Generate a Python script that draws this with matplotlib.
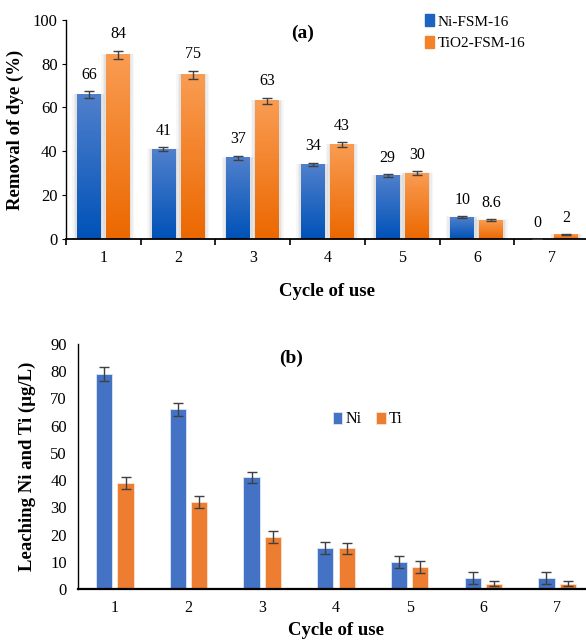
import numpy as np
import matplotlib.pyplot as plt
from matplotlib.colors import LinearSegmentedColormap
from matplotlib.patches import Rectangle

plt.rcParams['font.family'] = ['Liberation Serif', 'DejaVu Serif']

# ---- data ----
cycles = [1, 2, 3, 4, 5, 6, 7]
cycle_labels = ['1', '2', '3', '4', '5', '6', '7']

# (a) removal of dye
ni_fsm = [66, 41, 37, 34, 29, 10, 0]
ni_fsm_err = [1.5, 0.9, 1.0, 0.8, 0.7, 0.4, 0.0]
ti_fsm = [84, 75, 63, 43, 30, 8.6, 2]
ti_fsm_err = [2.0, 1.8, 1.5, 1.1, 0.9, 0.4, 0.3]
dye_labels_ni = ['66', '41', '37', '34', '29', '10', '0']
dye_labels_ti = ['84', '75', '63', '43', '30', '8.6', '2']

# (b) leaching
ni_leach = [79, 66, 41, 15, 10, 4, 4]
ni_leach_err = [2.5, 2.4, 2.0, 2.3, 2.3, 2.1, 2.1]
ti_leach = [39, 32, 19, 15, 8, 2, 2]
ti_leach_err = [2.2, 2.3, 2.2, 2.0, 2.1, 1.0, 1.0]

blue_grad = LinearSegmentedColormap.from_list('bg', ['#0052b8', '#5080cc'])
orange_grad = LinearSegmentedColormap.from_list('og', ['#ec6800', '#f99c52'])
grad = np.linspace(0, 1, 100).reshape(-1, 1)

fig = plt.figure(figsize=(5.86, 6.4), dpi=100)

# ================= panel (a) =================
ax1 = fig.add_axes([0.1126, 0.6266, 0.8924, 0.3424])
x = np.array(cycles, dtype=float)
w = 0.32
off = 0.195


def grad_bar(ax, xc, h, cmap):
    if h <= 0:
        return
    # soft shadow
    for k, a in [(0.06, 0.06), (0.04, 0.08), (0.02, 0.10)]:
        ax.add_patch(Rectangle((xc - w / 2 - k, 0), w + 2 * k, h + k * 6,
                               color='gray', alpha=a, lw=0, zorder=1))
    ax.imshow(grad, extent=[xc - w / 2, xc + w / 2, 0, h], origin='lower',
              aspect='auto', cmap=cmap, zorder=2)


for i in range(len(cycles)):
    grad_bar(ax1, x[i] - off, ni_fsm[i], blue_grad)
    grad_bar(ax1, x[i] + off, ti_fsm[i], orange_grad)

ax1.errorbar(x - off, ni_fsm, yerr=ni_fsm_err, fmt='none', ecolor='#404040',
             elinewidth=1, capsize=3.5, capthick=1, zorder=3)
ax1.errorbar(x + off, ti_fsm, yerr=ti_fsm_err, fmt='none', ecolor='#404040',
             elinewidth=1, capsize=3.5, capthick=1, zorder=3)

for i in range(len(cycles)):
    ax1.annotate(dye_labels_ni[i], (x[i] - off, ni_fsm[i] + ni_fsm_err[i]),
                 xytext=(0, 6), textcoords='offset points', ha='center',
                 va='bottom', fontsize=11.5)
    ax1.annotate(dye_labels_ti[i], (x[i] + off, ti_fsm[i] + ti_fsm_err[i]),
                 xytext=(0, 6), textcoords='offset points', ha='center',
                 va='bottom', fontsize=11.5)

ax1.set_xlim(0.5, 7.5)
ax1.set_ylim(0, 100)
ax1.set_yticks(range(0, 101, 20))
ax1.set_xticks(np.arange(0.5, 7.6, 1.0))
ax1.set_xticklabels([])
ax1.set_xticks(cycles, minor=True)
ax1.set_xticklabels(cycle_labels, minor=True)
ax1.tick_params(axis='x', which='major', direction='out', length=4, width=1.2)
ax1.tick_params(axis='x', which='minor', length=0, pad=8, labelsize=11.5)
ax1.tick_params(axis='y', direction='out', length=3, labelsize=12, pad=3)
for s in ['top', 'right']:
    ax1.spines[s].set_visible(False)
ax1.spines['left'].set_linewidth(1)
ax1.spines['bottom'].set_linewidth(1.3)
ax1.set_ylabel('Removal of dye (%)', fontsize=13.5, fontweight='bold', labelpad=6)
ax1.set_xlabel('Cycle of use', fontsize=13.5, fontweight='bold', labelpad=12)
ax1.text(0.453, 0.94, '(a)', transform=ax1.transAxes, fontsize=14,
         fontweight='bold', ha='center', va='center')

h1 = Rectangle((0, 0), 1, 1, color='#1e62c2')
h2 = Rectangle((0, 0), 1, 1, color='#f38229')
ax1.legend([h1, h2], ['Ni-FSM-16', 'TiO2-FSM-16'], loc='upper left',
           bbox_to_anchor=(0.715, 0.987), bbox_transform=fig.transFigure,
           frameon=False, fontsize=11, handlelength=0.6, handleheight=0.8,
           handletextpad=0.2, labelspacing=0.5, borderaxespad=0)

# ================= panel (b) =================
ax2 = fig.add_axes([0.1331, 0.0797, 0.8805, 0.3828])
wb = 0.22
offb = 0.145
ax2.bar(x - offb, ni_leach, wb, color='#4472C4', edgecolor='#dfe6f5',
        linewidth=0.6, zorder=2, label='Ni')
ax2.bar(x + offb, ti_leach, wb, color='#ED7D31', edgecolor='#fbe3d2',
        linewidth=0.6, zorder=2, label='Ti')
ax2.errorbar(x - offb, ni_leach, yerr=ni_leach_err, fmt='none',
             ecolor='#404040', elinewidth=1, capsize=3.5, capthick=1, zorder=3)
ax2.errorbar(x + offb, ti_leach, yerr=ti_leach_err, fmt='none',
             ecolor='#404040', elinewidth=1, capsize=3.5, capthick=1, zorder=3)

ax2.set_xlim(0.5, 7.5)
ax2.set_ylim(0, 90)
ax2.set_yticks(range(0, 91, 10))
ax2.set_xticks(cycles)
ax2.set_xticklabels(cycle_labels)
ax2.tick_params(axis='x', length=0, pad=8, labelsize=11.5)
ax2.tick_params(axis='y', length=0, pad=8, labelsize=12)
for s in ['top', 'right']:
    ax2.spines[s].set_visible(False)
ax2.spines['left'].set_linewidth(1)
ax2.spines['bottom'].set_linewidth(1.6)
ax2.set_ylabel('Leaching Ni and Ti (\u00b5g/L)', fontsize=13.5,
               fontweight='bold', labelpad=10)
ax2.set_xlabel('Cycle of use', fontsize=13.5, fontweight='bold', labelpad=4)
ax2.text(0.413, 0.94, '(b)', transform=ax2.transAxes, fontsize=14,
         fontweight='bold', ha='center', va='center')
ax2.legend(loc='center left', bbox_to_anchor=(0.557, 0.345),
           bbox_transform=fig.transFigure, ncol=2, frameon=False,
           fontsize=11.5, handlelength=0.6, handleheight=0.8,
           handletextpad=0.2, columnspacing=0.9, borderaxespad=0)

fig.savefig('out.png', dpi=100)
